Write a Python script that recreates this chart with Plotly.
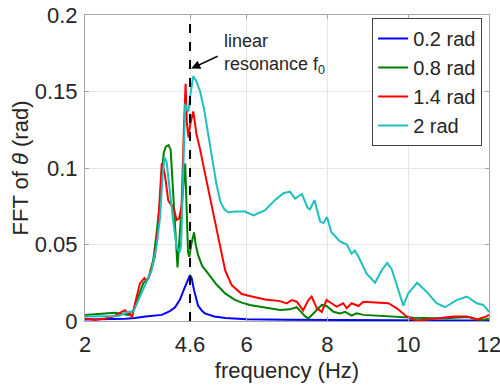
import plotly.graph_objects as go

# ---- data ----
blue_x = [2.0, 2.5, 3.0, 3.24, 3.5, 3.9, 4.1, 4.23, 4.35, 4.47, 4.55, 4.6, 4.64, 4.7, 4.8, 4.9, 4.97, 5.2, 5.47, 6.0, 7.0, 8.0, 9.0, 10.0, 11.0, 12.0]
blue_y = [0.001, 0.0012, 0.0015, 0.002, 0.003, 0.004, 0.0065, 0.009, 0.014, 0.022, 0.027, 0.030, 0.028, 0.02, 0.01, 0.0065, 0.005, 0.003, 0.002, 0.0012, 0.0008, 0.0006, 0.0005, 0.0004, 0.0004, 0.0004]

green_x = [2.0, 2.5, 2.74, 2.91, 3.07, 3.2, 3.32, 3.44, 3.57, 3.69, 3.77, 3.86, 3.9, 3.95, 4.0, 4.07, 4.12, 4.18, 4.24, 4.29, 4.38, 4.46, 4.48, 4.52, 4.55, 4.58, 4.63, 4.7, 4.74, 4.8, 4.9, 5.05, 5.25, 5.47, 5.7, 5.88, 6.08, 6.3, 6.58, 6.83, 7.07, 7.24, 7.35, 7.45, 7.53, 7.69, 7.86, 7.98, 8.15, 8.31, 8.44, 8.6, 8.72, 8.89, 9.3, 9.8, 10.13, 10.7, 10.95, 11.36, 11.53, 11.7, 11.85, 12.0]
green_y = [0.004, 0.005, 0.0054, 0.0046, 0.004, 0.007, 0.016, 0.0246, 0.028, 0.04, 0.057, 0.079, 0.097, 0.110, 0.114, 0.115, 0.112, 0.085, 0.05, 0.035, 0.07, 0.1, 0.103, 0.07, 0.045, 0.042, 0.05, 0.058, 0.05, 0.043, 0.036, 0.031, 0.024, 0.018, 0.014, 0.012, 0.0105, 0.0095, 0.0083, 0.0072, 0.0076, 0.009, 0.006, 0.003, 0.0017, 0.006, 0.0105, 0.0098, 0.006, 0.005, 0.006, 0.0035, 0.005, 0.004, 0.0033, 0.0024, 0.0022, 0.0018, 0.0018, 0.0024, 0.0024, 0.001, 0.0008, 0.0015]

red_x = [2.0, 2.25, 2.5, 2.74, 2.91, 2.99, 3.11, 3.17, 3.24, 3.36, 3.47, 3.52, 3.6, 3.73, 3.81, 3.86, 3.9, 3.94, 3.98, 4.06, 4.1, 4.18, 4.27, 4.33, 4.39, 4.45, 4.49, 4.52, 4.56, 4.6, 4.68, 4.76, 4.85, 4.97, 5.14, 5.3, 5.47, 5.63, 5.88, 6.13, 6.46, 6.83, 6.99, 7.12, 7.24, 7.4, 7.53, 7.61, 7.74, 7.86, 7.98, 8.1, 8.23, 8.39, 8.48, 8.6, 8.77, 8.89, 9.22, 9.51, 9.72, 9.96, 10.21, 10.46, 10.79, 11.12, 11.45, 11.7, 11.94, 12.0]
red_y = [0.0017, 0.0007, 0.0017, 0.0033, 0.006, 0.007, 0.004, 0.003, 0.0116, 0.0246, 0.028, 0.026, 0.030, 0.042, 0.062, 0.085, 0.103, 0.100, 0.095, 0.079, 0.077, 0.075, 0.066, 0.067, 0.075, 0.127, 0.155, 0.13, 0.12, 0.128, 0.137, 0.122, 0.112, 0.0965, 0.075, 0.053, 0.033, 0.0235, 0.0176, 0.016, 0.014, 0.013, 0.0115, 0.0137, 0.0126, 0.007, 0.0137, 0.016, 0.0083, 0.006, 0.0137, 0.0116, 0.0094, 0.0116, 0.0083, 0.0116, 0.0098, 0.0126, 0.012, 0.0116, 0.0083, 0.003, 0.0002, 0.001, 0.0018, 0.003, 0.003, 0.001, 0.003, 0.004]

cyan_x = [2.0, 2.5, 2.83, 3.07, 3.2, 3.32, 3.49, 3.65, 3.77, 3.86, 3.92, 3.97, 4.02, 4.1, 4.18, 4.27, 4.35, 4.38, 4.44, 4.48, 4.52, 4.56, 4.62, 4.68, 4.75, 4.85, 4.95, 5.05, 5.15, 5.25, 5.35, 5.45, 5.55, 5.71, 5.96, 6.17, 6.46, 6.7, 6.91, 7.07, 7.2, 7.37, 7.51, 7.57, 7.68, 7.82, 7.9, 7.99, 8.1, 8.23, 8.31, 8.48, 8.6, 8.68, 8.77, 8.97, 9.18, 9.34, 9.48, 9.59, 9.76, 9.88, 10.0, 10.1, 10.22, 10.46, 10.7, 10.91, 11.2, 11.45, 11.7, 11.86, 12.0]
cyan_y = [0.003, 0.003, 0.0033, 0.006, 0.006, 0.0137, 0.0235, 0.033, 0.0486, 0.068, 0.095, 0.107, 0.104, 0.084, 0.066, 0.048, 0.045, 0.05, 0.11, 0.142, 0.138, 0.137, 0.15, 0.16, 0.157, 0.15, 0.138, 0.122, 0.105, 0.09, 0.078, 0.073, 0.071, 0.0715, 0.0715, 0.069, 0.0725, 0.079, 0.0835, 0.0845, 0.080, 0.083, 0.074, 0.073, 0.079, 0.065, 0.064, 0.068, 0.058, 0.054, 0.052, 0.050, 0.044, 0.046, 0.042, 0.031, 0.025, 0.033, 0.038, 0.034, 0.020, 0.010, 0.018, 0.021, 0.025, 0.019, 0.0116, 0.009, 0.0137, 0.016, 0.0116, 0.0105, 0.006]

series_names = ["0.2 rad", "0.8 rad", "1.4 rad", "2 rad"]
series_colors = ["#0000ff", "#008000", "#ff0000", "#1fbfbf"]

x_tick_vals = [2, 4.6, 6, 8, 10, 12]
x_tick_text = ["2", "4.6", "6", "8", "10", "12"]
y_tick_vals = [0, 0.05, 0.1, 0.15, 0.2]
y_tick_text = ["0", "0.05", "0.1", "0.15", "0.2"]

f0 = 4.6

FONT = "Liberation Sans, Arial, Helvetica, sans-serif"
TXT = "#262626"
FS = 22

fig = go.Figure()
for i, (xs, ys) in enumerate([(blue_x, blue_y), (green_x, green_y), (red_x, red_y), (cyan_x, cyan_y)]):
    assert len(xs) == len(ys)
    fig.add_trace(go.Scatter(
        x=xs, y=ys, mode="lines", name=series_names[i],
        line=dict(color=series_colors[i], width=2),
    ))

fig.add_shape(type="line", x0=f0, x1=f0, y0=0, y1=0.2, xref="x", yref="y",
              line=dict(color="black", width=2, dash="dash"), layer="above")

fig.add_annotation(x=4.63, y=0.165, ax=5.32, ay=0.1735, xref="x", yref="y",
                   axref="x", ayref="y", text="", showarrow=True,
                   arrowhead=2, arrowsize=1.2, arrowwidth=1.5, arrowcolor="black")
fig.add_annotation(x=5.38, y=0.1745, xref="x", yref="y", xanchor="left", yanchor="middle",
                   text="linear<br>resonance f<sub>0</sub>", showarrow=False, align="left",
                   font=dict(family=FONT, size=18, color=TXT))

axis_common = dict(
    showgrid=True, gridcolor="#e5e5e5", gridwidth=1,
    showline=True, linecolor="#a6a6a6", linewidth=1, mirror="ticks",
    ticks="inside", ticklen=4, tickcolor="#a6a6a6",
    tickfont=dict(family=FONT, size=FS, color=TXT), zeroline=False,
    automargin=False, ticklabeloverflow="allow",
)

fig.update_layout(
    width=500, height=388,
    margin=dict(l=85, r=11, t=15, b=67),
    paper_bgcolor="white", plot_bgcolor="white",
    font=dict(family=FONT, color=TXT),
    xaxis=dict(range=[2, 12], tickvals=x_tick_vals, ticktext=x_tick_text,
               ticklabelstandoff=4,
               title=dict(text="frequency (Hz)", font=dict(family=FONT, size=FS, color=TXT), standoff=6),
               **axis_common),
    yaxis=dict(range=[0, 0.2], tickvals=y_tick_vals, ticktext=y_tick_text,
               ticklabelstandoff=2,
               title=dict(text="FFT of <i>θ</i> (rad)", font=dict(family=FONT, size=FS, color=TXT), standoff=0),
               **axis_common),
    legend=dict(x=0.983, y=0.99, xanchor="right", yanchor="top",
                bgcolor="white", bordercolor="#404040", borderwidth=1,
                font=dict(family=FONT, size=20, color=TXT)),
    showlegend=True,
)

fig.write_html("out.html", config={"displayModeBar": False},
               post_script="document.body.style.margin='0';document.body.style.overflow='hidden';")
